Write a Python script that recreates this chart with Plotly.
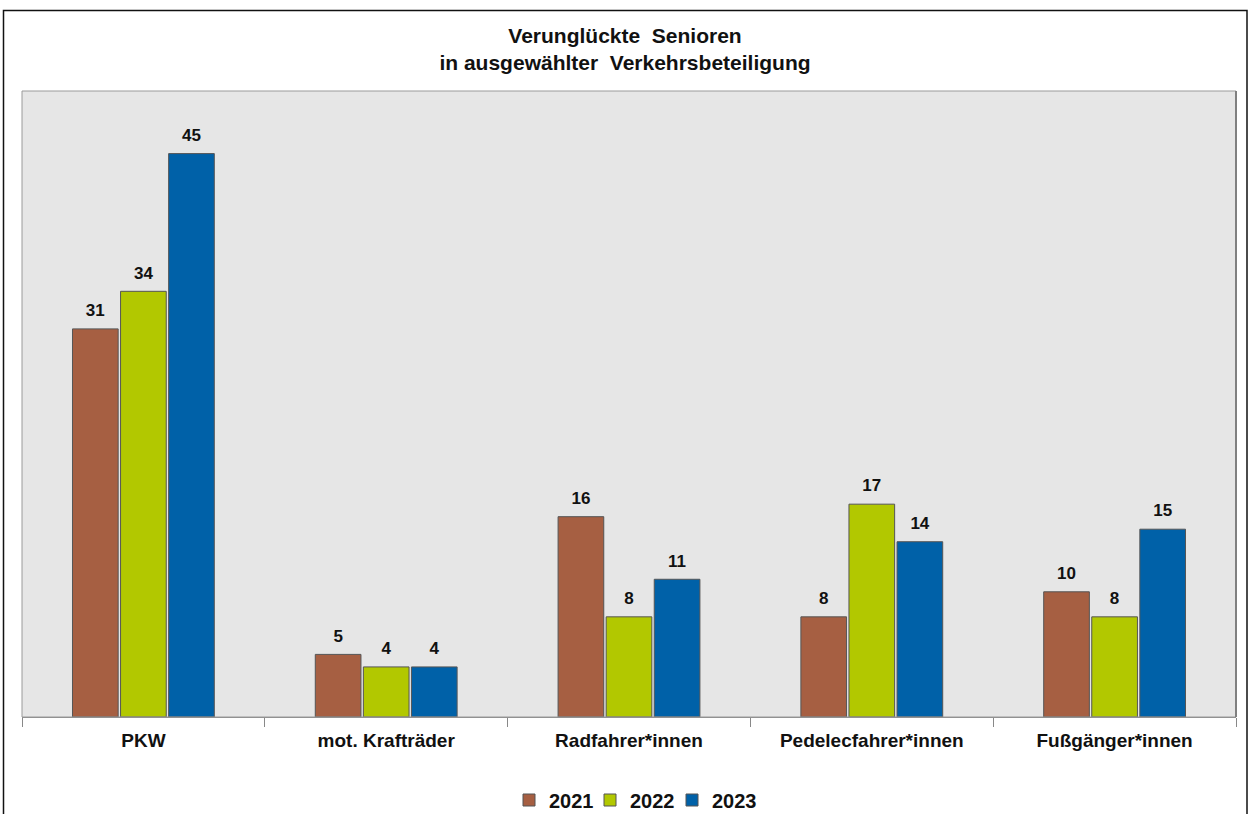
import plotly.graph_objects as go

categories = ["PKW", "mot. Krafträder", "Radfahrer*innen", "Pedelecfahrer*innen", "Fußgänger*innen"]
years = ["2021", "2022", "2023"]
values_2021 = [31, 5, 16, 8, 10]
values_2022 = [34, 4, 8, 17, 8]
values_2023 = [45, 4, 11, 14, 15]
colors = ["#A65F42", "#B2C800", "#0061A8"]

FONT = "Arial, 'Liberation Sans', sans-serif"

W, H = 1248, 814
ml, mr, mt, mb = 22, 12, 91, 97
pw, ph = W - ml - mr, H - mt - mb

def px_x(p):
    return (p - ml) / pw

def px_y(p):
    return (H - mb - p) / ph

fig = go.Figure()
series = [values_2021, values_2022, values_2023]
legend_ids = ["legend", "legend2", "legend3"]
for name, vals, col, lg in zip(years, series, colors, legend_ids):
    fig.add_trace(go.Bar(
        name="<b>" + name + "</b>", x=categories, y=vals,
        marker=dict(color=col, line=dict(color="#555555", width=1)),
        offsetgroup=name, alignmentgroup="a",
        hoverinfo="x+y", legend=lg,
    ))
# value labels as grouped scatter text
for name, vals in zip(years, series):
    fig.add_trace(go.Scatter(
        x=categories, y=vals, mode="markers+text",
        text=["<b>%d</b>" % v for v in vals], textposition="top center",
        textfont=dict(family=FONT, size=17, color="#111111"),
        marker=dict(size=12, opacity=0),
        offsetgroup=name, alignmentgroup="a",
        showlegend=False, hoverinfo="skip", cliponaxis=False,
    ))

legend_x_px = [509, 590, 672]
legend_common = dict(
    orientation="h", xanchor="left", y=px_y(800), yanchor="middle",
    font=dict(family=FONT, size=20, color="#111111"),
    itemclick=False, bgcolor="rgba(0,0,0,0)",
)

fig.update_layout(
    width=W, height=H,
    margin=dict(l=ml, r=mr, t=mt, b=mb, autoexpand=False),
    paper_bgcolor="white", plot_bgcolor="#E6E6E6",
    barmode="group", bargap=0.406, bargroupgap=0.05,
    scattermode="group", scattergap=0.406,
    font=dict(family=FONT, color="#111111"),
    title=dict(
        text="<b>Verunglückte  Senioren</b><br><b>in ausgewählter  Verkehrsbeteiligung</b>",
        x=px_x(625), xref="paper", xanchor="center",
        y=1 - 43 / H, yanchor="middle", yref="container",
        font=dict(family=FONT, size=21, color="#111111"),
    ),
    showlegend=True,
    legend=dict(x=px_x(legend_x_px[0]), **legend_common),
    legend2=dict(x=px_x(legend_x_px[1]), **legend_common),
    legend3=dict(x=px_x(legend_x_px[2]), **legend_common),
    xaxis=dict(
        type="category", tickson="boundaries", ticks="outside", ticklen=9,
        tickcolor="#888888", tickwidth=1,
        showline=True, linecolor="#888888", linewidth=1,
        tickfont=dict(family=FONT, size=19, color="#111111"),
        tickprefix="<b>", ticksuffix="</b>", ticklabelstandoff=6,
        showgrid=False, automargin=False,
    ),
    yaxis=dict(range=[0, 50], visible=False, showgrid=False, zeroline=False),
    shapes=[
        dict(type="rect", xref="paper", yref="paper", x0=0, x1=1, y0=0, y1=1,
             line=dict(color="#9a9a9a", width=1), layer="above"),
        dict(type="line", xref="paper", yref="paper", x0=1, x1=1, y0=0, y1=1,
             line=dict(color="#808080", width=2), layer="above"),
        dict(type="rect", xref="paper", yref="paper",
             x0=px_x(3.5), x1=px_x(1247), y0=px_y(830), y1=px_y(10.5),
             line=dict(color="#111111", width=1.5), layer="above"),
    ],
)

fig.write_html("out.html")
